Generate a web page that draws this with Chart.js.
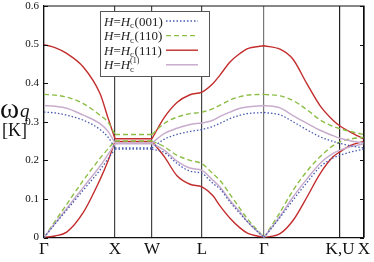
<!DOCTYPE html>
<html>
<head>
<meta charset="utf-8">
<script src="https://cdn.jsdelivr.net/npm/chart.js@4"></script>
<style>
  html, body { margin: 0; padding: 0; background: #fff; }
</style>
</head>
<body>
<canvas id="chart" width="374" height="262"></canvas>
<script>
// path positions along the Brillouin-zone path (Γ = 0), split where the bands kink
const kxGX = [0, 11, 22.7, 39.3, 56, 64, 71];
const kxXW = [71, 108];
const kxWG = [108, 120.5, 133, 146, 158, 169, 176, 186, 196, 203, 220];
const kxGK = [220, 236, 249, 263, 276, 289, 296, 306, 320];
const segments = [kxGX, kxXW, kxWG, kxGK];

const kTicks = [0, 71, 108, 158, 220, 296, 320];
const kLabels = ['Γ', 'X', 'W', 'L', 'Γ', 'K,U', 'X'];

// H = Hc(111)
const redHi = [0.5, 0.492, 0.477, 0.442, 0.373, 0.31, 0.256,
  0.256, 0.256,
  0.256, 0.312, 0.35, 0.37, 0.377, 0.399, 0.421, 0.455, 0.477, 0.489, 0.497,
  0.497, 0.488, 0.462, 0.398, 0.342, 0.304, 0.289, 0.274, 0.255];
const redLo = [0, 0.004, 0.014, 0.065, 0.15, 0.198, 0.249,
  0.249, 0.249,
  0.249, 0.209, 0.16, 0.138, 0.131, 0.108, 0.082, 0.05, 0.025, 0.012, 0,
  0, 0.01, 0.044, 0.105, 0.165, 0.209, 0.222, 0.238, 0.249];

// H = Hc(110)
const greenHi = [0.371, 0.369, 0.364, 0.347, 0.317, 0.299, 0.267,
  0.267, 0.267,
  0.267, 0.296, 0.312, 0.321, 0.325, 0.334, 0.343, 0.356, 0.365, 0.369, 0.371,
  0.371, 0.367, 0.355, 0.331, 0.305, 0.288, 0.282, 0.275, 0.267];
const greenLo = [0, 0.042, 0.086, 0.148, 0.205, 0.23, 0.25,
  0.25, 0.25,
  0.25, 0.235, 0.213, 0.2, 0.191, 0.165, 0.148, 0.112, 0.075, 0.05, 0,
  0, 0.065, 0.122, 0.172, 0.209, 0.238, 0.248, 0.255, 0.26];

// H = Hc(1)
const pinkHi = [0.342, 0.34, 0.335, 0.317, 0.295, 0.275, 0.245,
  0.245, 0.245,
  0.245, 0.27, 0.283, 0.293, 0.297, 0.304, 0.314, 0.325, 0.335, 0.338, 0.342,
  0.342, 0.336, 0.316, 0.296, 0.278, 0.264, 0.257, 0.251, 0.245];
const pinkLo = [0, 0.037, 0.075, 0.13, 0.185, 0.215, 0.243,
  0.243, 0.243,
  0.243, 0.226, 0.198, 0.18, 0.174, 0.148, 0.131, 0.096, 0.066, 0.042, 0,
  0, 0.055, 0.105, 0.152, 0.192, 0.218, 0.226, 0.235, 0.243];

// H = Hc(001)
const blueHi = [0.325, 0.323, 0.317, 0.304, 0.28, 0.26, 0.232,
  0.232, 0.232,
  0.232, 0.255, 0.267, 0.275, 0.28, 0.288, 0.296, 0.308, 0.317, 0.321, 0.324,
  0.324, 0.318, 0.3, 0.279, 0.261, 0.249, 0.244, 0.238, 0.232];
const blueLo = [0, 0.035, 0.071, 0.123, 0.175, 0.204, 0.229,
  0.229, 0.229,
  0.229, 0.22, 0.192, 0.172, 0.166, 0.14, 0.126, 0.092, 0.062, 0.042, 0,
  0, 0.052, 0.097, 0.143, 0.183, 0.206, 0.213, 0.221, 0.229];

const blue = 'rgb(70, 90, 175)';
const green = 'rgb(140, 190, 70)';
const red = 'rgb(195, 45, 45)';
const pink = 'rgb(200, 172, 205)';

function buildSeries(values) {
  let pts = [];
  let k = 0;
  segments.forEach(function(seg, s) {
    if (s > 0) pts.push({x: seg[0], y: null});
    seg.forEach(function(x) {
      pts.push({x: x, y: values[k]});
      k++;
    });
  });
  return pts;
}

function line(values, color, dash, width) {
  return {
    data: buildSeries(values),
    borderColor: color,
    backgroundColor: color,
    borderDash: dash,
    borderWidth: width,
    pointRadius: 0,
    cubicInterpolationMode: 'monotone',
    spanGaps: false,
    fill: false
  };
}

const legendRows = [
  {sub: 'c', tail: '(001)', sup: false, color: blue, dash: [1.5, 2], width: 1.3},
  {sub: 'c', tail: '(110)', sup: false, color: green, dash: [5, 3], width: 1.4},
  {sub: 'c', tail: '(111)', sup: false, color: red, dash: [], width: 1.4},
  {sub: 'c', tail: '(1)', sup: true, color: pink, dash: [], width: 1.5}
];

const decor = {
  id: 'decor',
  afterDraw(chart) {
    const ctx = chart.ctx;
    const a = chart.chartArea;
    const y = chart.scales.y;
    ctx.save();

    // frame top/right and inward ticks
    ctx.strokeStyle = '#111';
    ctx.lineWidth = 1.2;
    ctx.beginPath();
    ctx.moveTo(a.left, a.top);
    ctx.lineTo(a.right, a.top);
    ctx.lineTo(a.right, a.bottom);
    ctx.stroke();
    ctx.lineWidth = 1;
    ctx.beginPath();
    y.ticks.forEach(function(t) {
      const py = Math.round(y.getPixelForValue(t.value)) + 0.5;
      ctx.moveTo(a.left, py); ctx.lineTo(a.left + 4, py);
      ctx.moveTo(a.right, py); ctx.lineTo(a.right - 4, py);
    });
    ctx.stroke();

    // legend box
    const bx = 100.5, by = 11.5, bw = 109, bh = 65;
    ctx.fillStyle = '#fff';
    ctx.fillRect(bx, by, bw, bh);
    ctx.strokeStyle = '#555';
    ctx.lineWidth = 1;
    ctx.strokeRect(bx, by, bw, bh);

    legendRows.forEach(function(r, i) {
      const ly = 21 + i * 14.6;
      const base = ly + 4.5;
      let x = 104;
      ctx.fillStyle = '#222';
      ctx.textBaseline = 'alphabetic';
      ctx.textAlign = 'left';
      ctx.font = 'italic 13px "Liberation Serif"';
      ctx.fillText('H', x, base); x += ctx.measureText('H').width;
      ctx.font = '13px "Liberation Serif"';
      ctx.fillText('=', x, base); x += ctx.measureText('=').width;
      ctx.font = 'italic 13px "Liberation Serif"';
      ctx.fillText('H', x, base); x += ctx.measureText('H').width;
      ctx.font = '9px "Liberation Serif"';
      ctx.fillText(r.sub, x, base + 2.5);
      if (r.sup) {
        ctx.font = '8px "Liberation Serif"';
        ctx.fillText(r.tail, x, base - 6);
      } else {
        x += ctx.measureText(r.sub).width + 0.5;
        ctx.font = '13px "Liberation Serif"';
        ctx.fillText(r.tail, x, base);
      }
      ctx.strokeStyle = r.color;
      ctx.lineWidth = r.width;
      ctx.setLineDash(r.dash);
      ctx.beginPath();
      ctx.moveTo(166, ly);
      ctx.lineTo(198, ly);
      ctx.stroke();
      ctx.setLineDash([]);
    });

    // y-axis title
    ctx.fillStyle = '#111';
    ctx.textAlign = 'left';
    ctx.font = '29px "Liberation Serif"';
    ctx.fillText('ω', 0, 118);
    ctx.font = 'italic 19px "Liberation Serif"';
    ctx.fillText('q', 20, 117);
    ctx.font = '18px "Liberation Serif"';
    ctx.fillText('[K]', 2, 136);

    ctx.restore();
  }
};

const gridColors = ['#000', '#444', '#444', '#444', '#777', '#222', '#000'];

new Chart(document.getElementById('chart').getContext('2d'), {
  type: 'line',
  data: {
    datasets: [
      line(blueHi, blue, [1.5, 2], 1.3),
      line(blueLo, blue, [1.5, 2], 1.3),
      line(pinkHi, pink, [], 1.5),
      line(pinkLo, pink, [], 1.5),
      line(greenHi, green, [5, 3], 1.4),
      line(greenLo, green, [5, 3], 1.4),
      line(redHi, red, [], 1.4),
      line(redLo, red, [], 1.4)
    ]
  },
  options: {
    responsive: false,
    animation: false,
    layout: { padding: { top: 6, right: 10, left: 0, bottom: 0 } },
    plugins: {
      legend: { display: false },
      tooltip: { enabled: false }
    },
    scales: {
      x: {
        type: 'linear',
        min: 0,
        max: 320,
        afterBuildTicks: function(scale) {
          scale.ticks = kTicks.map(v => ({value: v}));
        },
        afterFit: function(scale) {
          scale.height = 24.5;
          scale.paddingLeft = 0;
          scale.paddingRight = 0;
        },
        ticks: {
          autoSkip: false,
          maxRotation: 0,
          padding: 2,
          color: '#111',
          font: { family: 'Liberation Serif', size: 17 },
          callback: function(value, index) { return kLabels[index]; }
        },
        grid: {
          drawTicks: false,
          lineWidth: 1.2,
          color: function(c) { return gridColors[c.index] || '#444'; }
        },
        border: { color: '#111', width: 1.2 }
      },
      y: {
        min: 0,
        max: 0.6,
        afterFit: function(scale) {
          scale.width = 44;
          scale.paddingTop = 0;
          scale.paddingBottom = 0;
        },
        ticks: {
          stepSize: 0.1,
          padding: 5,
          color: '#111',
          font: { family: 'Liberation Serif', size: 11 }
        },
        grid: { display: false, drawTicks: false },
        border: { color: '#111', width: 1.2 }
      }
    }
  },
  plugins: [decor]
});
</script>
</body>
</html>
